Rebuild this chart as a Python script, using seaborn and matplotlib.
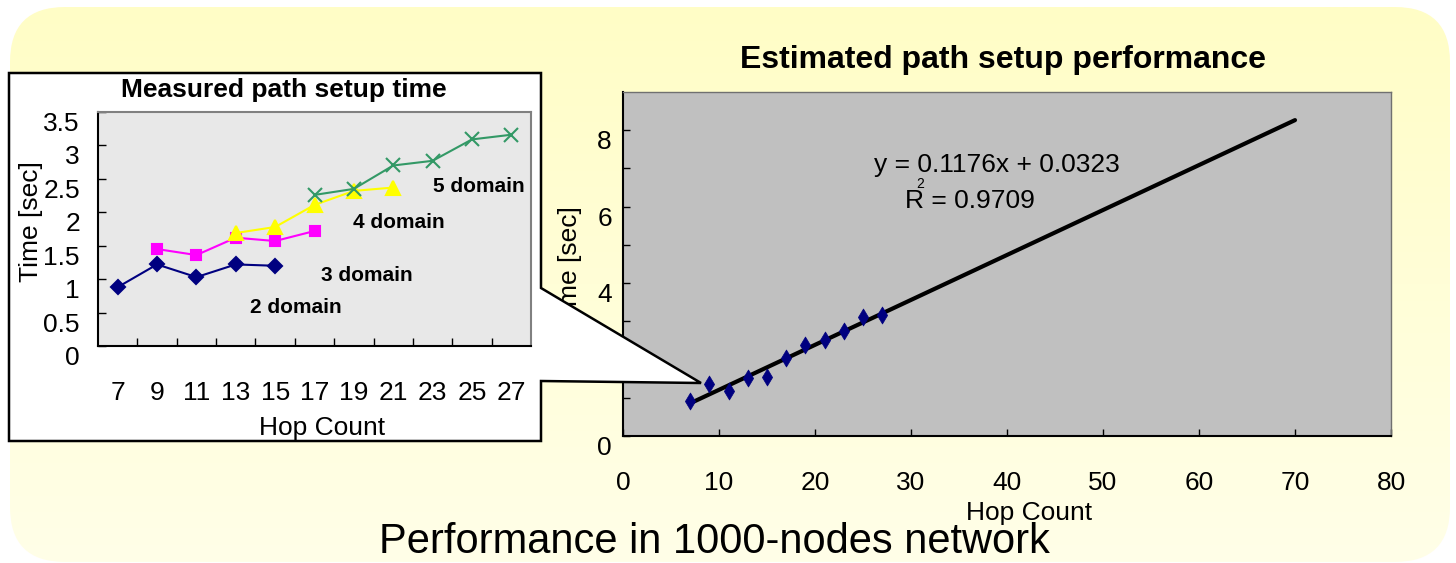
import matplotlib
matplotlib.use("Agg")  # headless

import matplotlib.pyplot as plt
import numpy as np
import seaborn as sns
from matplotlib.colors import LinearSegmentedColormap
from matplotlib.patches import FancyBboxPatch, Polygon

W, H = 1456, 563

# measured path setup time (inset), one series per domain count
hops_2dom = [7, 9, 11, 13, 15]
time_2dom = [0.88, 1.22, 1.03, 1.22, 1.20]
hops_3dom = [9, 11, 13, 15, 17]
time_3dom = [1.45, 1.36, 1.62, 1.57, 1.72]
hops_4dom = [13, 15, 17, 19, 21]
time_4dom = [1.69, 1.78, 2.11, 2.32, 2.37]
hops_5dom = [17, 19, 21, 23, 25, 27]
time_5dom = [2.26, 2.35, 2.70, 2.77, 3.09, 3.16]
inset_ticks = [7, 9, 11, 13, 15, 17, 19, 21, 23, 25, 27]

# estimated path setup performance (main chart)
est_hops = [7, 9, 11, 13, 15, 17, 19, 21, 23, 25, 27]
est_time = [0.91, 1.36, 1.17, 1.52, 1.54, 2.03, 2.39, 2.52, 2.76, 3.11, 3.17]
trend_slope = 0.1176
trend_icpt = 0.0323
trend_hops = [7, 70]

sns.set_style("ticks")
plt.rcParams["font.family"] = ["Liberation Sans", "DejaVu Sans"]
plt.rcParams.update({
    "text.color": "black",
    "axes.labelcolor": "black",
    "xtick.color": "black",
    "ytick.color": "black",
})

FS = 19  # tick labels, axis labels, equation


def fx(px):
    return px / W


def fy(py):
    return 1 - py / H


fig = plt.figure(figsize=(W / 100, H / 100), dpi=100)
fig.patch.set_facecolor("white")

# yellow rounded slide panel
ax_bg = fig.add_axes([0, 0, 1, 1], zorder=0)
ax_bg.axis("off")
panel = FancyBboxPatch((10, 7), 1440, 555, boxstyle="round,pad=0,rounding_size=55",
                       fc="none", ec="none")
ax_bg.add_patch(panel)
fade = LinearSegmentedColormap.from_list("fade", ["#FFFDC6", "#FFFFE8"])
im = ax_bg.imshow(np.linspace(0, 1, 256)[:, None], cmap=fade,
                  extent=(10, 1450, 562, 7), aspect="auto")
im.set_clip_path(panel)
ax_bg.set_xlim(0, W)
ax_bg.set_ylim(H, 0)

# main chart
ax = fig.add_axes([fx(623), fy(436), 768 / W, 344 / H], zorder=1)
ax.set_facecolor("#C0C0C0")
trend_time = [trend_slope * h + trend_icpt for h in trend_hops]
sns.lineplot(x=trend_hops, y=trend_time, color="black", lw=3, ax=ax)
sns.scatterplot(x=est_hops, y=est_time, marker="d", s=75, color="#000080",
                edgecolor="#000080", linewidth=0.5, ax=ax, zorder=3)
ax.set_xlim(0, 80)
ax.set_ylim(0, 9)
ax.set_xticks(range(0, 81, 10))
ax.set_yticks([0, 2, 4, 6, 8])
ax.set_yticks([1, 3, 5, 7], minor=True)
ax.tick_params(which="both", direction="in", length=5, width=1)
ax.tick_params(axis="x", labelsize=FS, pad=25)
ax.tick_params(axis="y", labelsize=FS, pad=8)
for lab in ax.get_yticklabels():
    lab.set_va("top")
for side in ["left", "bottom"]:
    ax.spines[side].set_color("black")
    ax.spines[side].set_linewidth(1.5)
for side in ["top", "right"]:
    ax.spines[side].set_color("#707070")
    ax.spines[side].set_linewidth(1)
ax.set_xlabel("Hop Count", fontsize=FS)
ax.xaxis.set_label_coords(0.529, -0.19)
ax.set_ylabel("Time [sec]", fontsize=FS)
ax.yaxis.set_label_coords(-0.053, 0.494)
ax.set_title("Estimated path setup performance", fontsize=23, fontweight="bold",
             pad=17.6, x=0.495)
ax.text(38.96, 6.91, "y = 0.1176x + 0.0323", ha="center", va="baseline", fontsize=FS)
ax.text(29.4, 5.97, "R = 0.9709", ha="left", va="baseline", fontsize=FS)
ax.text(30.55, 6.5, "2", ha="left", va="baseline", fontsize=10)

# callout box with pointer
ax_ov = fig.add_axes([0, 0, 1, 1], zorder=2)
ax_ov.axis("off")
ax_ov.patch.set_visible(False)
ax_ov.set_xlim(0, W)
ax_ov.set_ylim(H, 0)
callout = Polygon([(9, 73), (541, 73), (541, 288), (701, 383), (541, 381),
                   (541, 441), (9, 441)], closed=True, fc="white", ec="black", lw=1.8)
ax_ov.add_patch(callout)
ax_ov.text(284, 97.5, "Measured path setup time", ha="center", va="baseline",
           fontsize=19, fontweight="bold")
ax_ov.text(714, 553, "Performance in 1000-nodes network", ha="center", va="baseline",
           fontsize=30)

# inset chart
axi = fig.add_axes([fx(98), fy(346), 433 / W, 234 / H], zorder=3)
axi.set_facecolor("#E8E8E8")
series = [
    (hops_2dom, time_2dom, "#000080", "D", 7.5),
    (hops_3dom, time_3dom, "#FF00FF", "s", 7.5),
    (hops_4dom, time_4dom, "#FFFF00", "^", 9.5),
    (hops_5dom, time_5dom, "#339966", "x", 9.5),
]
for hx, ty, col, mk, ms in series:
    sns.lineplot(x=hx, y=ty, color=col, marker=mk, markersize=ms, markeredgecolor=col,
                 markeredgewidth=1.5, lw=1.5, ax=axi)
axi.set_xlim(6, 28)
axi.set_ylim(0, 3.5)
axi.set_xticks(inset_ticks)
axi.set_xticks(np.arange(8, 27, 2), minor=True)
axi.set_yticks(np.arange(0, 3.51, 0.5))
axi.set_yticklabels(["0", "0.5", "1", "1.5", "2", "2.5", "3", "3.5"])
axi.tick_params(which="both", direction="in", width=1)
axi.tick_params(axis="x", which="major", length=0, labelsize=FS, pad=25)
axi.tick_params(axis="x", which="minor", length=6)
axi.tick_params(axis="y", length=6, labelsize=FS, pad=13)
for lab in axi.get_yticklabels():
    lab.set_va("top")
for side in ["left", "bottom"]:
    axi.spines[side].set_color("black")
    axi.spines[side].set_linewidth(1.5)
for side in ["top", "right"]:
    axi.spines[side].set_color("#808080")
    axi.spines[side].set_linewidth(1.5)
axi.set_xlabel("Hop Count", fontsize=FS)
axi.xaxis.set_label_coords(0.517, -0.3)
axi.set_ylabel("Time [sec]", fontsize=FS)
axi.yaxis.set_label_coords(-0.127, 0.53)
for x, y, lab in [(25.34, 2.38, "5 domain"), (21.26, 1.85, "4 domain"),
                  (19.65, 1.05, "3 domain"), (16.05, 0.58, "2 domain")]:
    axi.text(x, y, lab, ha="center", va="center", fontsize=15, fontweight="bold")

fig.savefig("out.png", dpi=100, facecolor=fig.get_facecolor())
